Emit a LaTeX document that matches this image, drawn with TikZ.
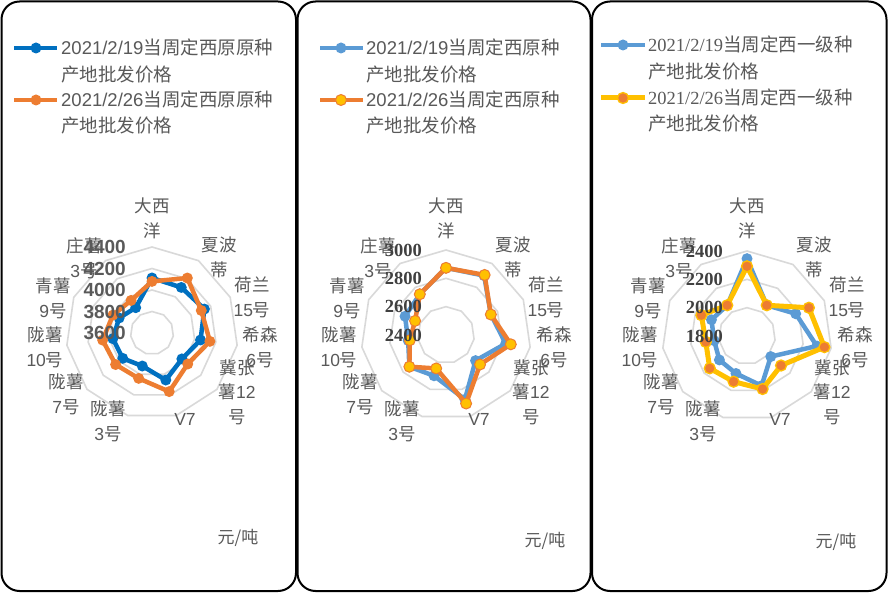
\documentclass[tikz,border=0pt]{standalone}
\usepackage{fontspec}
\setmainfont{Liberation Sans}
\newfontfamily\cjk{Noto Sans CJK SC}
\newfontfamily\tnr{Liberation Serif}
\newcommand\zh[1]{{\cjk #1}}
\definecolor{txtgray}{HTML}{595959}
\definecolor{valgray}{HTML}{404040}
\definecolor{gridgray}{HTML}{D9D9D9}
\definecolor{sblue}{HTML}{0070C0}
\definecolor{lblue}{HTML}{5B9BD5}
\definecolor{sorange}{HTML}{ED7D31}
\definecolor{syellow}{HTML}{FFC000}
\newcommand\mkpts[3]{% name, radius, values
  \foreach \v [count=\i from 0] in {#3} {\coordinate (#1-\i) at ({-90+\i*360/11}:{\v*#2});}}
\newcommand\drawser[3]{% name, line style, marker style
  \draw[#2] (#1-0) \foreach \i in {1,...,10}{-- (#1-\i)} -- cycle;
  \foreach \i in {0,...,10}{\node[#3] (#1m\i) at (#1-\i) {};}}
\newcommand\rings[2]{% step, count
  \foreach \k in {1,...,#2}{\draw[gridline] ({-90}:{\k*#1}) \foreach \i in {1,...,10}{-- ({-90+\i*360/11}:{\k*#1})} -- cycle;}}
\newcommand\catlabels[1]{%
  \node[cat] (#1-c0) at (0,-114.5) {\zh{大西}\\\zh{洋}};
  \node[cat] (#1-c1) at (67,-75.5) {\zh{夏波}\\\zh{蒂}};
  \node[cat] (#1-c2) at (100,-35.5) {\zh{荷兰}\\15\zh{号}};
  \node[cat] (#1-c3) at (108,14.5) {\zh{希森}\\6\zh{号}};
  \node[cat] (#1-c4) at (85,59) {\zh{冀张}\\\zh{薯}12\\\zh{号}};
  \node[cat] (#1-c5) at (33,86) {V7};
  \node[cat] (#1-c6) at (-44,88.5) {\zh{陇薯}\\3\zh{号}};
  \node[cat] (#1-c7) at (-86,61.5) {\zh{陇薯}\\7\zh{号}};
  \node[cat] (#1-c8) at (-107,14.5) {\zh{陇薯}\\10\zh{号}};
  \node[cat] (#1-c9) at (-99,-34.5) {\zh{青薯}\\9\zh{号}};
  \node[cat] (#1-c10) at (-68,-74.5) {\zh{庄薯}\\3\zh{号}};}
\begin{document}
\begin{tikzpicture}[x=1pt,y=-1pt,
  panel/.style={draw=black,line width=2pt,rounded corners=18pt},
  gridline/.style={draw=gridgray,line width=1.6pt},
  cat/.style={text=txtgray,font=\fontsize{17.5}{24.5}\selectfont,align=center,inner sep=0pt},
  leg/.style={text=txtgray,font=\fontsize{18.5}{22}\selectfont,anchor=base west,inner sep=0pt},
  unitlbl/.style={text=txtgray,font=\fontsize{17}{20}\selectfont,inner sep=0pt},
  valA/.style={text=txtgray,font=\fontsize{19}{20}\selectfont\bfseries,anchor=east,inner sep=0pt},
  valB/.style={text=valgray,font=\fontsize{18.5}{20}\selectfont\tnr\bfseries,anchor=east,inner sep=0pt},
  serline/.style={line width=4.5pt,line join=round,draw=#1},
  dot/.style={circle,inner sep=0pt,minimum size=11pt,fill=#1},
  ydot/.style={circle,inner sep=0pt,minimum size=11pt,fill=syellow,draw=sorange,line width=1pt},
  odot/.style={circle,inner sep=0pt,minimum size=11pt,fill=sorange,draw=syellow,line width=1.3pt},
]
\useasboundingbox (0,0) rectangle (888,593);
\fill[white] (0,0) rectangle (888,593);
% panels
\draw[panel] (1.5,1.5) rectangle (296,591);
\draw[panel] (297.5,1.5) rectangle (590.5,591);
\draw[panel] (592,1.5) rectangle (886.5,591);

% ---------- panel 1 ----------
\begin{scope}[shift={(152,333)}]
  \rings{21.5}{4}
  \mkpts{pa}{86}{0.64,0.63,0.67,0.57,0.46,0.57,0.40,0.45,0.46,0.42,0.35}
  \mkpts{pb}{86}{0.60,0.76,0.63,0.68,0.55,0.71,0.55,0.56,0.58,0.50,0.45}
  \drawser{pa}{serline=sblue}{dot=sblue}
  \drawser{pb}{serline=sorange}{dot=sorange}
  \catlabels{p1}
\end{scope}
\node[valA] (v1a) at (126,333) {3600};
\node[valA] (v1b) at (126,311.5) {3800};
\node[valA] (v1c) at (126,290) {4000};
\node[valA] (v1d) at (126,268.5) {4200};
\node[valA] (v1e) at (126,247) {4400};
\coordinate (l1a1) at (14,48); \coordinate (l1a2) at (57,48);
\draw[serline=sblue] (l1a1) -- (l1a2);
\node[dot=sblue] (l1am) at (36,48) {};
\coordinate (l1b1) at (14,100); \coordinate (l1b2) at (57,100);
\draw[serline=sorange] (l1b1) -- (l1b2);
\node[dot=sorange] (l1bm) at (36,100) {};
\node[leg] (t1a) at (61,55) {2021/2/19\zh{当周定西原原种}};
\node[leg] (t1b) at (61,82) {\zh{产地批发价格}};
\node[leg] (t1c) at (61,107) {2021/2/26\zh{当周定西原原种}};
\node[leg] (t1d) at (61,133) {\zh{产地批发价格}};
\node[unitlbl] (u1) at (238,538) {\zh{元/吨}};

% ---------- panel 2 ----------
\begin{scope}[shift={(446,335)}]
  \rings{28.33}{3}
  \mkpts{qa}{85}{0.79,0.83,0.58,0.71,0.46,0.79,0.50,0.57,0.45,0.53,0.57}
  \mkpts{qb}{85}{0.79,0.84,0.58,0.77,0.53,0.84,0.41,0.57,0.43,0.40,0.57}
  \drawser{qa}{serline=lblue}{dot=lblue}
  \drawser{qb}{serline=sorange}{ydot}
\end{scope}
\begin{scope}[shift={(446,333)}]
  \catlabels{p2}
\end{scope}
\node[valB] (v2a) at (422,335) {2400};
\node[valB] (v2b) at (422,306.7) {2600};
\node[valB] (v2c) at (422,278.3) {2800};
\node[valB] (v2d) at (422,250) {3000};
\coordinate (l2a1) at (320,48); \coordinate (l2a2) at (363,48);
\draw[serline=lblue] (l2a1) -- (l2a2);
\node[dot=lblue] (l2am) at (341,48) {};
\coordinate (l2b1) at (320,100); \coordinate (l2b2) at (363,100);
\draw[serline=sorange] (l2b1) -- (l2b2);
\node[ydot] (l2bm) at (341,100) {};
\node[leg] (t2a) at (366,55) {2021/2/19\zh{当周定西原种}};
\node[leg] (t2b) at (366,82) {\zh{产地批发价格}};
\node[leg] (t2c) at (366,107) {2021/2/26\zh{当周定西原种}};
\node[leg] (t2d) at (366,133) {\zh{产地批发价格}};
\node[unitlbl] (u2) at (545,541) {\zh{元/吨}};

% ---------- panel 3 ----------
\begin{scope}[shift={(747,336)}]
  \rings{28.33}{3}
  \mkpts{ra}{85}{0.91,0.43,0.63,0.83,0.37,0.61,0.46,0.43,0.39,0.46,0.43}
  \mkpts{rb}{85}{0.82,0.43,0.80,0.92,0.53,0.65,0.56,0.58,0.49,0.59,0.43}
  \drawser{ra}{serline=lblue}{dot=lblue}
  \drawser{rb}{serline=syellow,line width=5pt}{odot}
\end{scope}
\begin{scope}[shift={(747,333)}]
  \catlabels{p3}
\end{scope}
\node[valB] (v3a) at (723,336) {1800};
\node[valB] (v3b) at (723,307.7) {2000};
\node[valB] (v3c) at (723,279.3) {2200};
\node[valB] (v3d) at (723,251) {2400};
\coordinate (l3a1) at (601,45); \coordinate (l3a2) at (645,45);
\draw[serline=lblue] (l3a1) -- (l3a2);
\node[dot=lblue] (l3am) at (623,45) {};
\coordinate (l3b1) at (601,98); \coordinate (l3b2) at (645,98);
\draw[serline=syellow,line width=5pt] (l3b1) -- (l3b2);
\node[odot] (l3bm) at (623,98) {};
\node[leg] (t3a) at (648,52) {{\tnr 2021/2/19}\zh{当周定西一级种}};
\node[leg] (t3b) at (648,79) {\zh{产地批发价格}};
\node[leg] (t3c) at (648,105) {{\tnr 2021/2/26}\zh{当周定西一级种}};
\node[leg] (t3d) at (648,131) {\zh{产地批发价格}};
\node[unitlbl] (u3) at (836,542) {\zh{元/吨}};
\end{tikzpicture}
\end{document}
